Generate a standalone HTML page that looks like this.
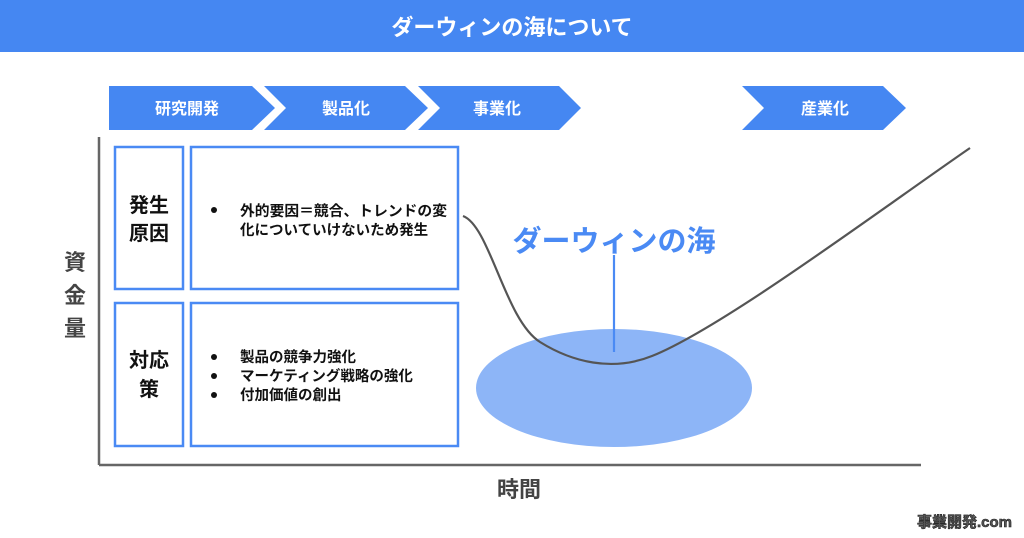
<!DOCTYPE html>
<html><head><meta charset="utf-8"><style>
body{margin:0;width:1024px;height:538px;overflow:hidden;background:#fff;font-family:"Liberation Sans","Noto Sans CJK JP",sans-serif;}
</style></head><body>
<svg width="1024" height="538" viewBox="0 0 1024 538" xmlns="http://www.w3.org/2000/svg" style="position:absolute;left:0;top:0;font-family:'Liberation Sans','Noto Sans CJK JP',sans-serif">
<rect x="0" y="0" width="1024" height="52" fill="#4587f2"/>
<text x="512" y="35" text-anchor="middle" font-size="22" font-weight="bold" fill="#fff">ダーウィンの海について</text>
<g fill="#4587f2">
<polygon points="109,86 252,86 275,108 252,130 109,130"/>
<polygon points="264,86 405,86 428,108 405,130 264,130 286,108"/>
<polygon points="418,86 559,86 581,108 559,130 418,130 440,108"/>
<polygon points="742,86 883,86 906,108 883,130 742,130 764,108"/>
</g>
<g font-size="16" font-weight="bold" fill="#fff" text-anchor="middle">
<text x="187" y="114">研究開発</text>
<text x="346" y="114">製品化</text>
<text x="497" y="114">事業化</text>
<text x="825" y="114">産業化</text>
</g>
<line x1="99" y1="137" x2="99" y2="465" stroke="#666" stroke-width="2.5"/>
<line x1="99" y1="465" x2="921" y2="465" stroke="#666" stroke-width="2.5"/>
<text x="75" y="270" text-anchor="middle" font-size="22" font-weight="bold" fill="#444">資</text>
<text x="75" y="303" text-anchor="middle" font-size="22" font-weight="bold" fill="#444">金</text>
<text x="75" y="336" text-anchor="middle" font-size="22" font-weight="bold" fill="#444">量</text>
<text x="519" y="497" text-anchor="middle" font-size="22" font-weight="bold" fill="#444">時間</text>
<ellipse cx="614" cy="388" rx="138" ry="59" fill="#8db5f7"/>
<path d="M463,216 C490,226 505,320 540,342 C572,362 612,372 652,356 C722,328 880,210 970,148" fill="none" stroke="#555" stroke-width="2.2"/>
<line x1="614" y1="255" x2="614" y2="352" stroke="#4a8af4" stroke-width="2.2"/>
<text x="614" y="251" text-anchor="middle" font-size="29" font-weight="bold" fill="#4a8af4">ダーウィンの海</text>
<g fill="#fff" stroke="#4a8af4" stroke-width="2.5">
<rect x="115" y="147" width="68" height="142"/>
<rect x="191" y="147" width="267" height="142"/>
<rect x="115" y="303" width="68" height="143"/>
<rect x="191" y="303" width="267" height="143"/>
</g>
<g font-size="20" font-weight="bold" fill="#111" text-anchor="middle">
<text x="149" y="212">発生</text>
<text x="149" y="240">原因</text>
<text x="149" y="367">対応</text>
<text x="149" y="396">策</text>
</g>
<g font-size="14.5" font-weight="bold" fill="#111">
<circle cx="214" cy="210" r="3"/>
<text x="240" y="216" textLength="207" lengthAdjust="spacingAndGlyphs">外的要因＝競合、トレンドの変</text>
<text x="240" y="235">化についていけないため発生</text>
<circle cx="214" cy="357" r="3"/>
<text x="240" y="362">製品の競争力強化</text>
<circle cx="214" cy="376" r="3"/>
<text x="240" y="381">マーケティング戦略の強化</text>
<circle cx="214" cy="395" r="3"/>
<text x="240" y="400">付加価値の創出</text>
</g>
<text x="1012" y="527" text-anchor="end" font-size="15" font-weight="bold" fill="#555" stroke="#222" stroke-width="0.6">事業開発.com</text>
</svg>
</body></html>
